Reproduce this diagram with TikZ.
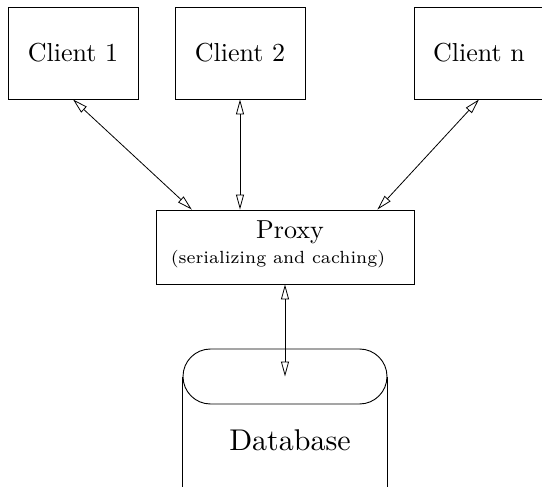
\documentclass[tikz,border=0pt]{standalone}
\usepackage{fontspec}
\usepackage{tikz}
\usetikzlibrary{calc,arrows.meta,shapes.misc}
\newfontfamily\romten{lmroman10-regular.otf}
\newfontfamily\romseven{lmroman7-regular.otf}

\begin{document}
\begin{tikzpicture}[x=1pt, y=-1pt, line width=0.9pt,
    box/.style = {draw, minimum width=130pt, minimum height=92pt, inner sep=0pt,
                  font=\romten\fontsize{26}{30}\selectfont},
    link/.style = {{Triangle[open,length=15pt,width=8pt]}-{Triangle[open,length=15pt,width=8pt]},
                   line width=0.8pt}]
    % fix the page to the size of the picture
    \useasboundingbox (0,0) rectangle (542,487);

    % the clients (the last one runs off the page)
    \node[box] (client1) at (73,53) {Client 1};
    \node[box] (client2) at (240,53) {Client 2};
    \node[box] (clientn) at (479,53) {Client n};

    % proxy box and its two lines of text
    \node[draw, minimum width=258pt, minimum height=74pt] (proxy) at (285,247) {};
    \node[anchor=base, font=\romten\fontsize{26}{30}\selectfont] (proxytitle) at (290,238) {Proxy};
    \node[anchor=base, font=\romseven\fontsize{17.6}{22}\selectfont] (proxysub) at (278,263) {(serializing and caching)};

    % database drum, cut off at the bottom
    \node[draw, rounded rectangle, minimum width=204pt, minimum height=55pt, inner sep=0pt] (db) at (285,376.5) {};
    \draw (db.west) -- ++(0,130);
    \draw (db.east) -- ++(0,130);
    \node[anchor=base, font=\romten\fontsize{30}{34}\selectfont] (dblabel) at (290,450) {Database};

    % connections
    \draw[link] (client1.south) -- ($(proxy.north west)!0.14!(proxy.north east)$);
    \draw[link] (client2.south) -- (client2.south |- proxy.north);
    \draw[link] (clientn.south) -- ($(proxy.north west)!0.857!(proxy.north east)$);
    \draw[link] (proxy.south) -- (db.center);
\end{tikzpicture}
\end{document}
